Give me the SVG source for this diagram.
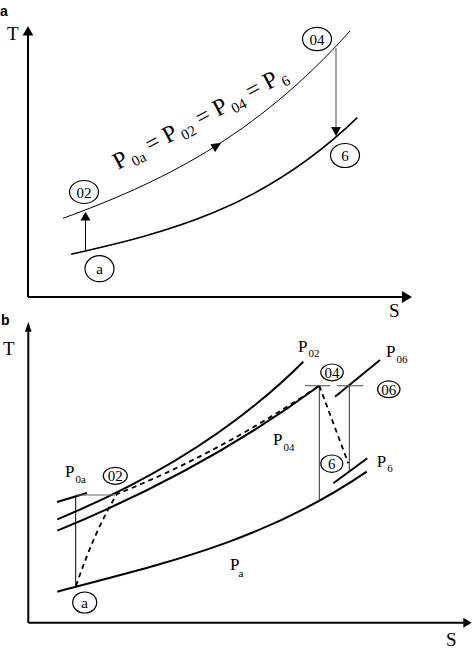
<svg xmlns="http://www.w3.org/2000/svg" width="473" height="650" viewBox="0 0 473 650">
<style>
.lbl{font-family:"Liberation Sans",Arial,sans-serif;font-weight:bold;font-size:14px;fill:#000}
.ax{font-family:"Liberation Serif","Times New Roman",serif;font-size:19px;fill:#000}
.t{font-family:"Liberation Serif","Times New Roman",serif;fill:#000}
.node ellipse{fill:#fff;stroke:#000;stroke-width:1.2}
.node text{font-family:"Liberation Serif","Times New Roman",serif;font-size:15px;text-anchor:middle;fill:#000}
.axis{stroke:#000;stroke-width:2;fill:none}
.thin{stroke:#000;stroke-width:1;fill:none}
.thick{stroke:#000;stroke-width:2;fill:none}
.gray{stroke:#666;stroke-width:1.2;fill:none}
.dash{stroke:#000;stroke-width:1.8;fill:none;stroke-dasharray:5,4}
.head{fill:#000}
</style>

<!-- Panel a -->
<text class="lbl" x="0" y="16">a</text>
<text class="ax" x="7" y="40">T</text>
<text class="ax" x="389" y="317">S</text>
<g id="axes-a">
<path class="axis" d="M28,297 V34 M28,297 H404"/>
<polygon class="head" points="28,26 22.7,35.5 33.3,35.5"/>
<polygon class="head" points="412,297 402,291 402,303"/>
</g>

<g id="connectors">
<!-- panel a curves -->
<path class="thin" d="M63,218.3 C158.8,183.3 254.2,138.1 350,31"/>
<path class="thick" style="stroke-width:1.6" d="M71,254.3 C166.3,232.6 262,209.7 357.3,117.7"/>
<polygon class="head" transform="translate(217,145.5) rotate(-32)" points="5,0 -5,-4.5 -5,4.5"/>
<line class="thin" x1="85.5" y1="251" x2="85.5" y2="220"/>
<polygon class="head" points="85.5,211.7 80.5,220.5 90.5,220.5"/>
<line class="gray" x1="336" y1="48" x2="336" y2="128"/>
<polygon class="head" points="336,136 331,127 341,127"/>

<!-- panel b curves -->
<path class="thick" d="M57.3,519.3 Q208,457 303.3,361.7"/>
<path class="thick" d="M57.3,530.7 Q205,470 319.3,385.7"/>
<path class="thick" d="M57.3,591.7 C160.3,564.2 263.7,542.2 366.7,471.7"/>
<line class="thick" x1="57" y1="502" x2="87" y2="493"/>
<line class="thick" x1="380" y1="360" x2="335" y2="396.7"/>
<line class="thick" x1="367.3" y1="458.3" x2="333.3" y2="483.3"/>
<line class="thin" x1="75.7" y1="495.5" x2="75.7" y2="587"/>
<line class="gray" x1="75.7" y1="495" x2="115" y2="495"/>
<line class="gray" x1="305" y1="385.7" x2="330" y2="385.7"/>
<line class="gray" x1="336.7" y1="385.7" x2="363.3" y2="385.7"/>
<line class="thin" style="stroke:#333" x1="319.3" y1="385.7" x2="319.3" y2="501.7"/>
<line class="thin" style="stroke:#333" x1="349.3" y1="385.7" x2="349.3" y2="471.5"/>
<path class="dash" d="M76,586 Q95,530 117,494 Q218,454 319.3,385.7"/>
<path class="dash" d="M319.3,385.7 L348.3,463.3"/>
</g>

<text class="t" font-size="24" transform="rotate(-28 118 170)" x="118" y="170">P<tspan font-size="15" dx="3" dy="5">0a</tspan><tspan dy="-5"> = P</tspan><tspan font-size="15" dx="3" dy="5">02</tspan><tspan dy="-5"> = P</tspan><tspan font-size="15" dx="3" dy="5">04</tspan><tspan dy="-5"> = P</tspan><tspan font-size="15" dx="3" dy="5">6</tspan></text>

<g id="node-a1" class="node"><ellipse cx="99.5" cy="268.7" rx="14.5" ry="13"/><text x="99.5" y="274">a</text></g>
<g id="node-02a" class="node"><ellipse cx="84" cy="192" rx="14.5" ry="11.5"/><text x="84" y="197.5">02</text></g>
<g id="node-04a" class="node"><ellipse cx="317" cy="39" rx="14.5" ry="11.7"/><text x="317" y="44.5">04</text></g>
<g id="node-6a" class="node"><ellipse cx="345" cy="155.5" rx="14.5" ry="12"/><text x="345" y="161">6</text></g>

<!-- Panel b -->
<text class="lbl" x="1" y="325">b</text>
<text class="ax" x="3" y="355">T</text>
<text class="ax" x="446" y="646">S</text>
<g id="axes-b">
<path class="axis" d="M28.3,622.7 V330 M28.3,622.7 H464"/>
<polygon class="head" points="28.3,321.7 25,331.7 31.6,331.7"/>
<polygon class="head" points="471.7,622.7 463.3,617.7 463.3,627.7"/>
</g>

<text class="t" font-size="17" x="65" y="477">P<tspan font-size="11" dx="1" dy="6">0a</tspan></text>
<text class="t" font-size="17" x="298" y="352">P<tspan font-size="11" dx="1" dy="5">02</tspan></text>
<text class="t" font-size="17" x="386" y="357">P<tspan font-size="11" dx="1" dy="6">06</tspan></text>
<text class="t" font-size="17" x="273" y="445">P<tspan font-size="11" dx="1" dy="6">04</tspan></text>
<text class="t" font-size="17" x="376.7" y="466.7">P<tspan font-size="11" dx="1" dy="5">6</tspan></text>
<text class="t" font-size="17" x="230" y="570">P<tspan font-size="11" dx="-1" dy="7">a</tspan></text>

<g id="node-02b" class="node"><ellipse cx="115.3" cy="475.8" rx="12" ry="8.5"/><text x="115.3" y="481">02</text></g>
<g id="node-04b" class="node"><ellipse cx="332" cy="372.4" rx="11.2" ry="8.4"/><text x="332" y="377.6">04</text></g>
<g id="node-06b" class="node"><ellipse cx="388.8" cy="389.3" rx="11.2" ry="8.4"/><text x="388.8" y="394.5">06</text></g>
<g id="node-6b" class="node"><ellipse cx="331.8" cy="463.7" rx="11" ry="8.7"/><text x="331.8" y="469">6</text></g>
<g id="node-ab" class="node"><ellipse cx="84.7" cy="602.5" rx="12" ry="10.5"/><text x="84.7" y="607.5">a</text></g>
</svg>
